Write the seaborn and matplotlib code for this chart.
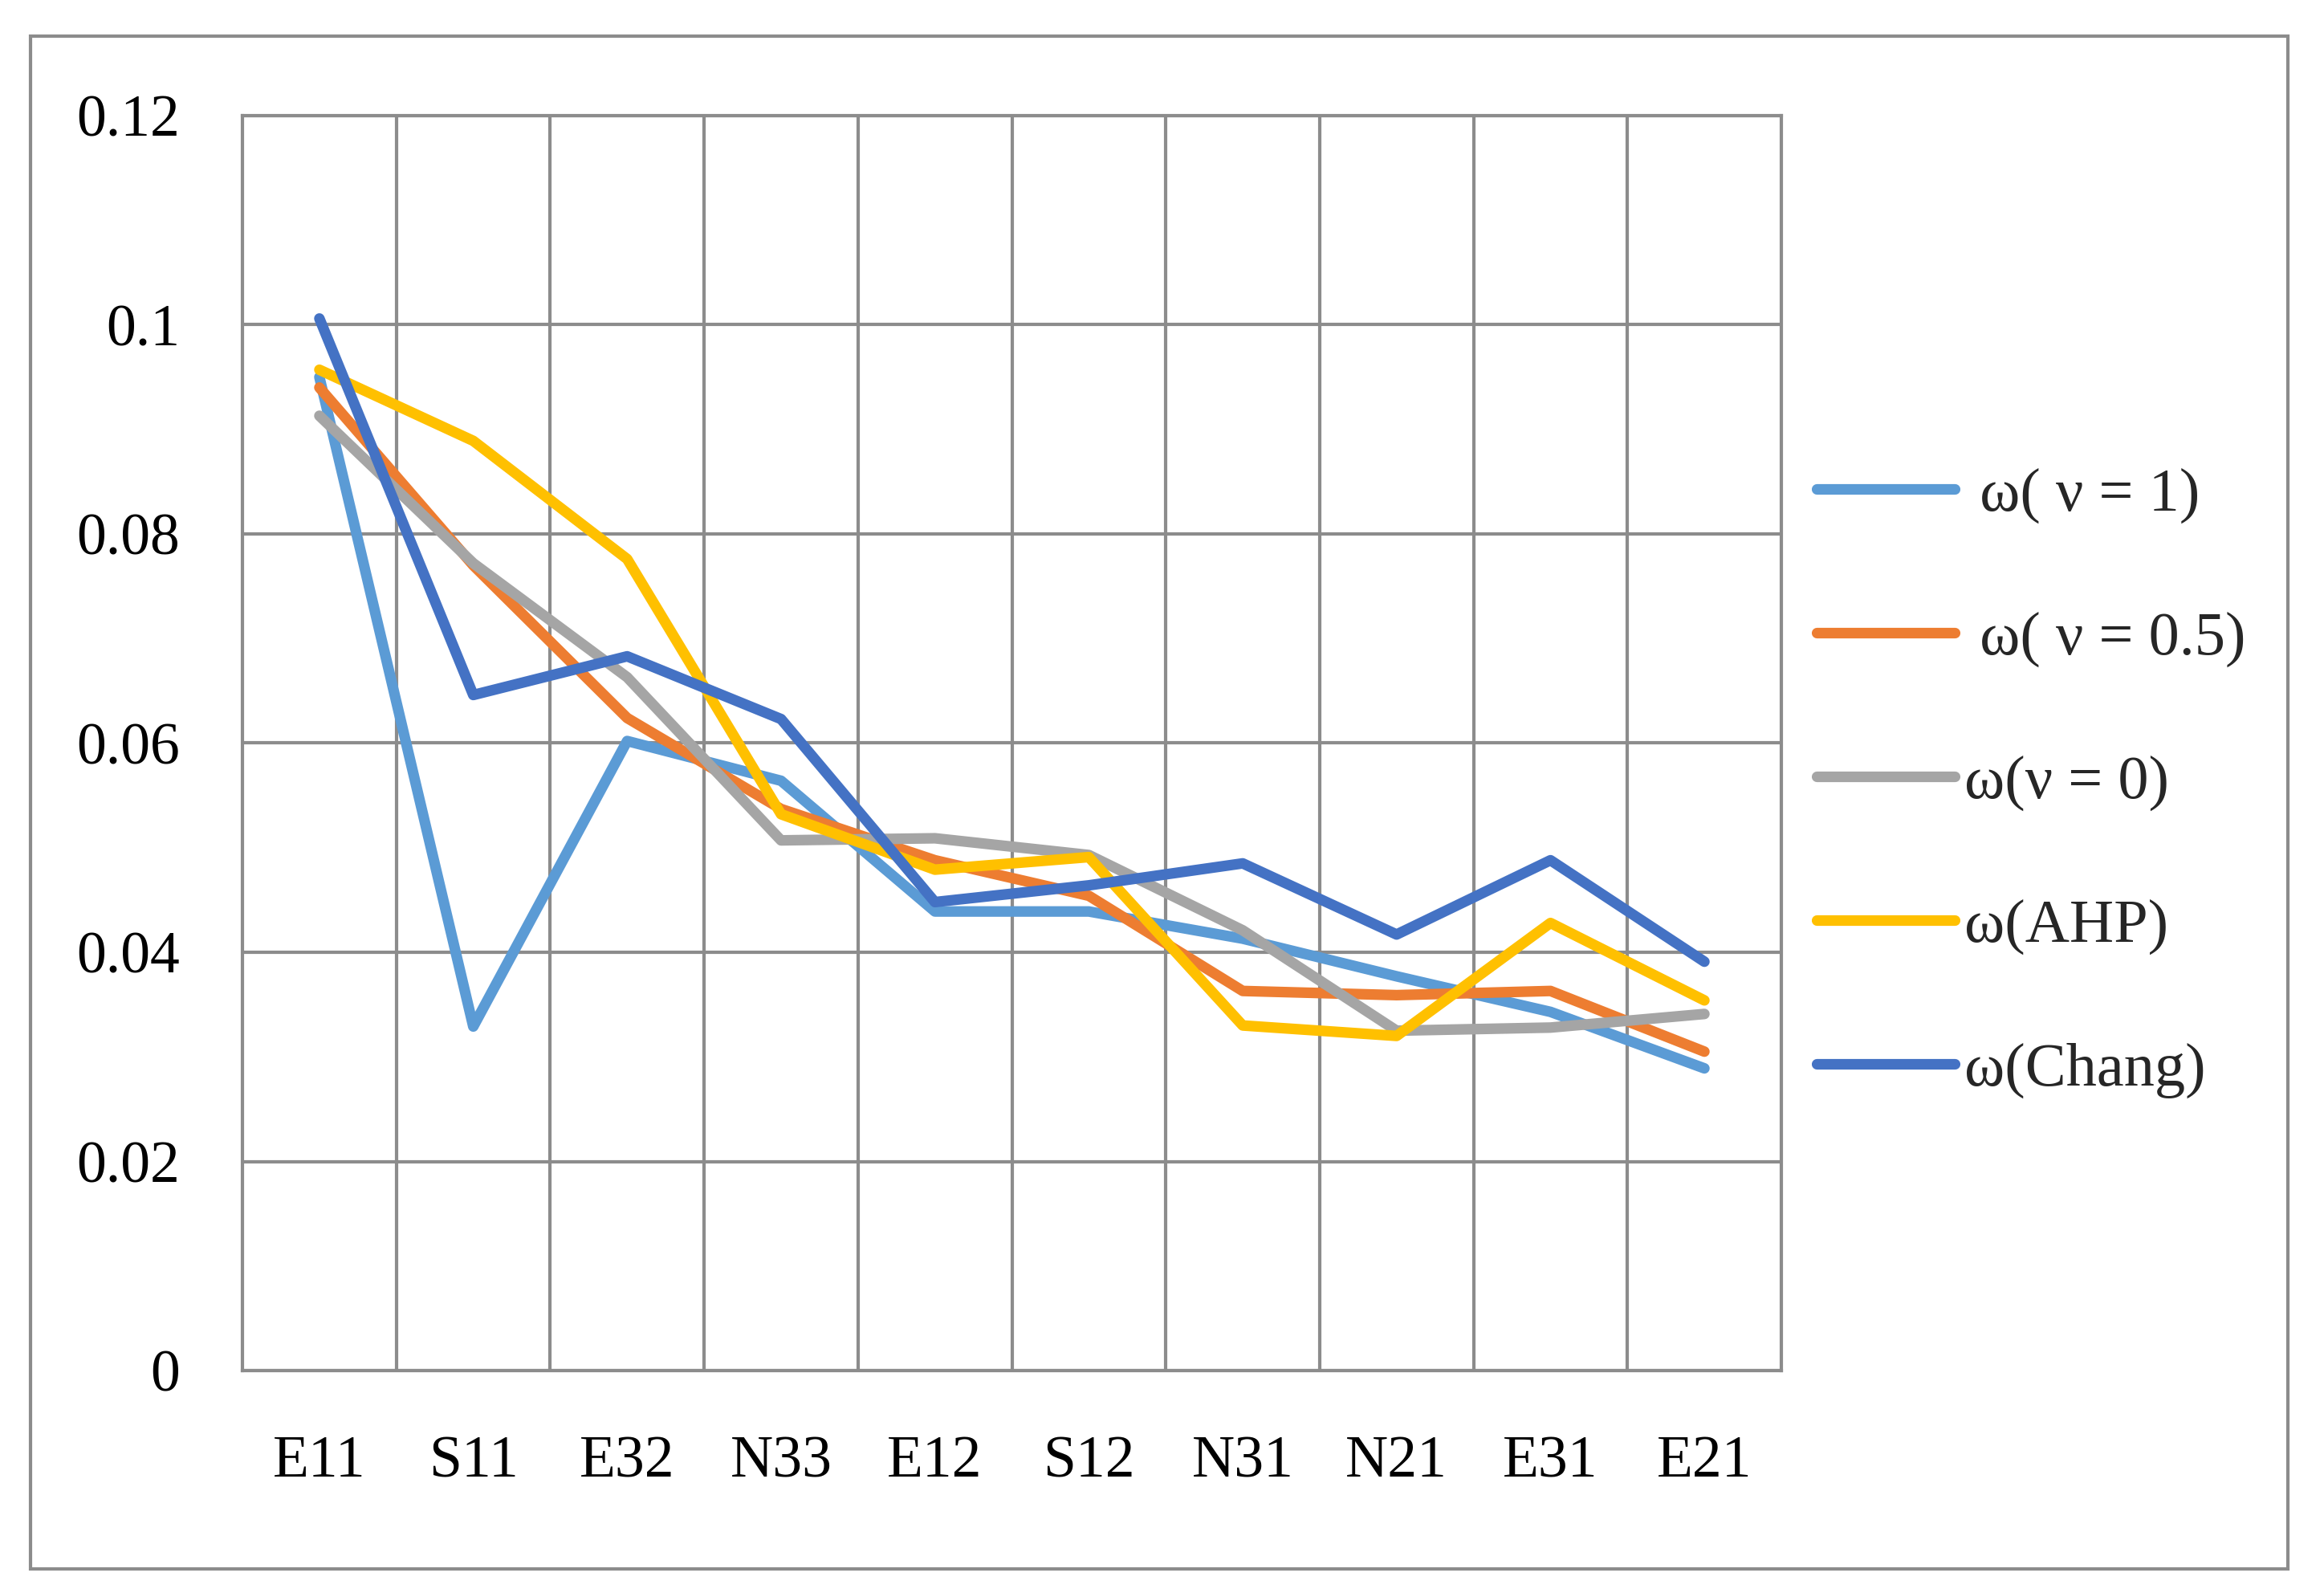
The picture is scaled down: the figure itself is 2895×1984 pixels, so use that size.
import matplotlib
matplotlib.use("Agg")
import matplotlib.pyplot as plt
from matplotlib.patches import Rectangle
from matplotlib.ticker import FixedLocator
import seaborn as sns
import pandas as pd

# ---- data ----
categories = ["E11", "S11", "E32", "N33", "E12", "S12", "N31", "N21", "E31", "E21"]
w_v1 = [0.0950, 0.0329, 0.0602, 0.0564, 0.0439, 0.0439, 0.0413, 0.0377, 0.0343, 0.0289]
w_v05 = [0.0940, 0.0770, 0.0624, 0.0537, 0.0488, 0.0454, 0.0363, 0.0359, 0.0363, 0.0305]
w_v0 = [0.0913, 0.0772, 0.0663, 0.0507, 0.0509, 0.0493, 0.0421, 0.0325, 0.0328, 0.0341]
w_ahp = [0.0957, 0.0889, 0.0776, 0.0532, 0.0479, 0.0491, 0.0330, 0.0320, 0.0428, 0.0354]
w_chang = [0.1006, 0.0646, 0.0683, 0.0623, 0.0448, 0.0464, 0.0485, 0.0417, 0.0488, 0.0391]
series_names = [" ω( ν = 1)", " ω( ν = 0.5)", "ω(ν = 0)", "ω(AHP)", "ω(Chang)"]
yticks = [0, 0.02, 0.04, 0.06, 0.08, 0.1, 0.12]
ytick_labels = ["0", "0.02", "0.04", "0.06", "0.08", "0.1", "0.12"]

colors = ["#5B9BD5", "#ED7D31", "#A5A5A5", "#FFC000", "#4472C4"]
GRAY = "#8C8C8C"

series_values = [w_v1, w_v05, w_v0, w_ahp, w_chang]
rows = []
for name, vals in zip(series_names, series_values):
    for c, v in zip(categories, vals):
        rows.append({"cat": c, "val": v, "series": name})
df = pd.DataFrame(rows)

sns.set_theme(style="white")
plt.rcParams["font.family"] = ["Liberation Serif", "DejaVu Serif"]

DPI = 100
LW = 9.5
fig = plt.figure(figsize=(28.95, 19.84), dpi=DPI)
ax = fig.add_axes([302 / 2895, 1 - 1707 / 1984, (2219 - 302) / 2895, (1707 - 144) / 1984])

sns.lineplot(data=df, x="cat", y="val", hue="series", hue_order=series_names,
             palette=colors, sort=False, errorbar=None, linewidth=LW, ax=ax,
             solid_capstyle="round", solid_joinstyle="round")

ax.set_xlim(-0.5, len(categories) - 0.5)
ax.set_ylim(0, 0.12)
ax.set_yticks(yticks)
ax.set_yticklabels(ytick_labels)
ax.xaxis.set_minor_locator(FixedLocator([i + 0.5 for i in range(len(categories) - 1)]))
ax.grid(True, which="major", axis="y", color=GRAY, linewidth=3.0)
ax.grid(True, which="minor", axis="x", color=GRAY, linewidth=3.0)
ax.grid(False, which="major", axis="x")
ax.set_axisbelow(True)
for s in ax.spines.values():
    s.set_visible(True)
    s.set_color(GRAY)
    s.set_linewidth(3.0)
ax.tick_params(axis="both", which="both", length=0)
ax.tick_params(axis="y", pad=56, labelsize=53, labelcolor="black")
ax.tick_params(axis="x", pad=58, labelsize=53, labelcolor="black")
ax.set_xlabel("")
ax.set_ylabel("")

leg = ax.legend(loc="center left", bbox_to_anchor=(2263 / 2895, 1 - 975 / 1984),
                bbox_transform=fig.transFigure, frameon=False, fontsize=55,
                handlelength=2.25, handletextpad=0.16, labelspacing=1.43,
                borderpad=0, borderaxespad=0)
for line in leg.get_lines():
    line.set_linewidth(LW)
    line.set_solid_capstyle("round")

# outer chart border
fig.patches.append(Rectangle((38 / 2895, 1 - 1954 / 1984), (2850 - 38) / 2895,
                             (1954 - 45) / 1984, transform=fig.transFigure,
                             fill=False, edgecolor=GRAY, linewidth=3.0))

fig.savefig("out.png", dpi=DPI, facecolor="white")
